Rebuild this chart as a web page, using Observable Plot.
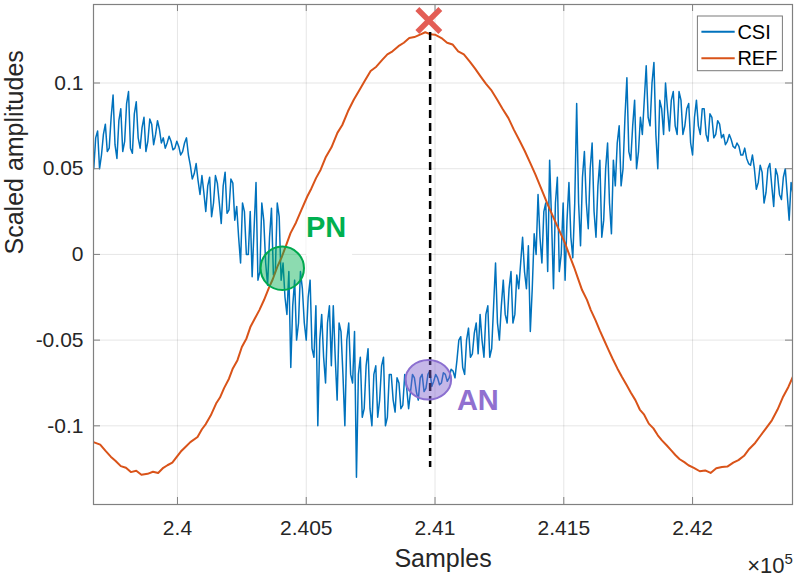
<!DOCTYPE html>
<html><head><meta charset="utf-8">
<script src="https://cdn.jsdelivr.net/npm/d3@7"></script>
<script src="https://cdn.jsdelivr.net/npm/@observablehq/plot@0.6"></script>
<style>body{margin:0;background:#fff}svg{display:block}</style>
</head><body><div id="chart"></div>
<script>
// CSI: equally spaced samples (main samples every 15, mid samples offset by 7.5)
const csiStart = 239675, csiStep = 15;
const csiValues = [
 0.05, 0.072, 0.058, 0.076, 0.062,
 0.093, 0.056, 0.085, 0.066, 0.095, 0.059, 0.089,
 0.062, 0.08, 0.066, 0.076, 0.07, 0.073,
 0.068, 0.065, 0.066, 0.062, 0.063, 0.06, 0.068,
 0.052, 0.047, 0.043,
 0.046, 0.025, 0.045, 0.03, 0.0415, 0.018, 0.048, 0.026, 0.0416,
 0.028, -0.005, 0.025,
 0.0, -0.013, 0.042, -0.01,
 0.02, -0.018, 0.027, -0.01, 0.022,
 -0.005, -0.035, -0.066, -0.015, -0.04,
 -0.02, -0.05, -0.015, -0.06, -0.1, -0.035, -0.075, -0.03,
 -0.03, -0.085, -0.045, -0.1, -0.04, -0.075,
 -0.13, -0.06, -0.09, -0.055, -0.1, -0.065, -0.085, -0.06, -0.095,
 -0.07, -0.092, -0.075, -0.088, -0.078,
 -0.08, -0.072, -0.085, -0.07, -0.078, -0.068, -0.074, -0.072, -0.075, -0.07, -0.072, -0.068,
 -0.062, -0.048, -0.07, -0.043, -0.058, -0.04,
 -0.035, -0.06, -0.03, -0.055, -0.005, -0.05,
 -0.015, -0.04, -0.01, -0.035, -0.02,
 0.01, -0.02, -0.045, 0.012,
 0.035, -0.005, 0.03, 0.055, -0.02, 0.045, 0.0,
 -0.015, 0.042, -0.002,
 0.088, 0.005, 0.06, 0.015, 0.065, 0.01, 0.055, 0.02, 0.065, 0.012,
 0.04, 0.075, 0.05, 0.103, 0.055, 0.09, 0.06,
 0.07, 0.11, 0.075, 0.112, 0.05,
 0.085, 0.1, 0.072, 0.095, 0.07, 0.09, 0.075, 0.088, 0.058,
 0.09, 0.07, 0.085, 0.066, 0.08, 0.07, 0.076,
 0.07, 0.066, 0.067, 0.062, 0.063, 0.058, 0.056, 0.052,
 0.05, 0.042, 0.048, 0.036, 0.053, 0.028, 0.046, 0.032, 0.05, 0.02, 0.035
];
const csiMidValues = [
 0.068, 0.05, 0.07, 0.06, 0.08,
 0.064, 0.078, 0.06, 0.088, 0.062, 0.082, 0.068,
 0.074, 0.06, 0.079, 0.064, 0.078, 0.065,
 0.062, 0.069, 0.061, 0.066, 0.058, 0.065, 0.058,
 0.044, 0.053, 0.035,
 0.036, 0.04, 0.022, 0.046, 0.03, 0.04, 0.024, 0.044, 0.02,
 0.01, 0.03, 0.0,
 0.025, 0.015, -0.015, 0.03,
 -0.005, 0.01, -0.012, 0.03, -0.015,
 -0.025, -0.01, -0.03, -0.05, -0.01,
 -0.04, -0.025, -0.055, -0.03, -0.05, -0.06, -0.04, -0.065,
 -0.06, -0.04, -0.07, -0.05, -0.07, -0.045,
 -0.07, -0.095, -0.065, -0.09, -0.07, -0.095, -0.065, -0.1, -0.07,
 -0.085, -0.072, -0.09, -0.07, -0.09,
 -0.07, -0.08, -0.072, -0.08, -0.07, -0.077, -0.07, -0.076, -0.069, -0.074, -0.067, -0.072,
 -0.05, -0.066, -0.05, -0.06, -0.046, -0.058,
 -0.05, -0.035, -0.06, -0.03, -0.04, -0.03,
 -0.035, -0.02, -0.04, -0.012, -0.005,
 -0.01, 0.005, -0.02, 0.0,
 0.01, 0.025, -0.01, 0.02, 0.03, -0.01, 0.03,
 0.02, 0.01, 0.03,
 0.03, 0.045, 0.03, 0.05, 0.025, 0.04, 0.01, 0.05, 0.03, 0.055,
 0.065, 0.04, 0.08, 0.06, 0.075, 0.05, 0.08,
 0.09, 0.08, 0.1, 0.07, 0.09,
 0.07, 0.085, 0.09, 0.075, 0.095, 0.07, 0.085, 0.065, 0.08,
 0.075, 0.085, 0.07, 0.082, 0.068, 0.078, 0.068,
 0.064, 0.07, 0.063, 0.065, 0.058, 0.062, 0.053, 0.058,
 0.038, 0.052, 0.03, 0.05, 0.04, 0.05, 0.035, 0.045, 0.035, 0.042
];
const refSamples = [
 239674,239700,239720,239741,239760,239780,239800,239819,239840,239860,239884,239905,239925,239945,239961,239980,239995,
 240013,240030,240050,240078,240095,240110,240129,240150,240165,240181,240200,240215,240233,240250,240268,240284,240300,
 240318,240336,240355,240370,240388,240405,240420,240439,240460,240480,240504,240520,240538,240556,240575,240598,240621,
 240640,240662,240685,240705,240728,240750,240772,240795,240815,240835,240858,240879,240900,240920,240944,240962,240983,
 241000,241025,241047,241068,241090,241112,241135,241155,241176,241198,241220,241241,241262,241285,241306,241328,241348,
 241370,241390,241412,241435,241460,241487,241505,241519,241540,241555,241571,241590,241605,241623,241640,241655,241674,
 241690,241708,241726,241745,241760,241778,241795,241812,241830,241848,241865,241881,241900,241918,241933,241950,241968,
 241984,242005,242028,242049,242070,242092,242114,242135,242158,242178,242200,242220,242243,242265,242285,242308,242330,
 242350,242372,242392
];
const refValues = [
 -0.1095,-0.111,-0.1145,-0.118,-0.1205,-0.1235,-0.1245,-0.127,-0.1262,-0.1285,-0.128,-0.1268,-0.1275,-0.1245,-0.123,-0.1215,-0.1185,
 -0.115,-0.1125,-0.1095,-0.1065,-0.102,-0.099,-0.094,-0.087,-0.0835,-0.078,-0.0725,-0.0665,-0.0617,-0.054,-0.049,-0.042,-0.0375,
 -0.0325,-0.0266,-0.0195,-0.0145,-0.0071,-0.0015,0.0045,0.0124,0.0185,0.0255,0.0338,0.0385,0.0445,0.0494,0.0565,0.0625,0.0709,
 0.0755,0.0835,0.0904,0.0955,0.1015,0.107,0.1095,0.1135,0.1167,0.1185,0.1215,0.1235,0.1262,0.1268,0.1284,0.1296,0.1284,
 0.1282,0.1262,0.1235,0.1225,0.1185,0.1167,0.1125,0.1085,0.104,0.0995,0.0955,0.0904,0.085,0.0795,0.0728,0.0665,0.0605,
 0.0533,0.0465,0.0385,0.030,0.0215,0.0124,0.0065,0.0007,-0.0075,-0.014,-0.0208,-0.0265,-0.0325,-0.0383,-0.0445,-0.0495,-0.0558,
 -0.061,-0.0665,-0.0715,-0.0765,-0.0805,-0.085,-0.0905,-0.0935,-0.0987,-0.1015,-0.1055,-0.1085,-0.1115,-0.1145,-0.117,-0.1195,-0.1212,
 -0.123,-0.1245,-0.1265,-0.126,-0.1275,-0.1248,-0.124,-0.1238,-0.1215,-0.120,-0.1175,-0.1135,-0.110,-0.1055,-0.1015,-0.0968,-0.0905,
 -0.0835,-0.0773,-0.0705
];
const seriesNames = ["CSI", "REF"];
const seriesColors = ["#0072BD", "#D95319"];
const xTicks = [240000, 240500, 241000, 241500, 242000];
const xTickLabels = ["2.4", "2.405", "2.41", "2.415", "2.42"];
const yTicks = [-0.1, -0.05, 0, 0.05, 0.1];
const yTickLabels = ["-0.1", "-0.05", "0", "0.05", "0.1"];
const xDomain = [239674, 242388];
const yDomain = [-0.1459, 0.1458];
// annotations
const peakMarker = [{x: 240976, y: 0.1365}];
const peakLine = [{x: 240981, y1: 0.1295, y2: -0.1243}];
const pnCircle = [{x: 240407, y: -0.0081}];
const pnLabel = [{x: 240499, y: 0.0100, text: "PN"}];
const pnBackground = [{x1: 240502, x2: 240680, y1: -0.0012, y2: 0.026}];
const anEllipse = {x: 240976, y: -0.0734};
const anLabel = [{x: 241085, y: -0.0909, text: "AN"}];

const csi = [];
csiValues.forEach((v, i) => {
  csi.push({x: csiStart + i * csiStep, y: v});
  if (i < csiMidValues.length) csi.push({x: csiStart + i * csiStep + csiStep / 2, y: csiMidValues[i]});
});
const ref = refSamples.map((s, i) => ({x: s, y: refValues[i]}));

const W = 795, H = 576, mL = 93, mR = 3, mT = 4, mB = 72;
const pw = W - mL - mR, ph = H - mT - mB;
const font = "'Liberation Sans', Arial, Helvetica, sans-serif";
const axisGrey = "#808080";

function ellipseMark(index, scales) {
  return d3.create("svg:ellipse")
    .attr("cx", scales.x(anEllipse.x)).attr("cy", scales.y(anEllipse.y))
    .attr("rx", 22.8).attr("ry", 19.7)
    .attr("fill", "#7f5fcc").attr("fill-opacity", 0.45)
    .attr("stroke", "#8b6fd0").attr("stroke-width", 2).node();
}
function legendMark(index, scales, values, dims) {
  const g = d3.create("svg:g").attr("font-family", font).attr("text-anchor", "start");
  const x0 = dims.width - dims.marginRight - 94.6, y0 = 16;
  g.append("rect").attr("x", x0).attr("y", y0).attr("width", 85).attr("height", 54.7)
    .attr("fill", "#fff").attr("stroke", "#7a7a7a").attr("stroke-width", 1);
  seriesNames.forEach((name, i) => {
    const yy = y0 + 15.7 + i * 26.6;
    g.append("line").attr("x1", x0 + 4).attr("x2", x0 + 37.3).attr("y1", yy).attr("y2", yy)
      .attr("stroke", seriesColors[i]).attr("stroke-width", 2);
    g.append("text").attr("x", x0 + 40).attr("y", yy).attr("dy", "0.35em")
      .attr("text-anchor", "start").attr("font-size", 20).attr("fill", "#000").text(name);
  });
  return g.node();
}

const chart = Plot.plot({
  width: W, height: H,
  marginLeft: mL, marginRight: mR, marginTop: mT, marginBottom: mB,
  style: {fontFamily: font, background: "#fff", color: "#262626"},
  x: {domain: xDomain},
  y: {domain: yDomain},
  marks: [
    Plot.gridX(xTicks, {stroke: "#000", strokeOpacity: 0.1}),
    Plot.gridY(yTicks, {stroke: "#000", strokeOpacity: 0.1}),
    Plot.rect(pnBackground, {x1: "x1", x2: "x2", y1: "y1", y2: "y2", fill: "#fff"}),
    Plot.line(csi, {x: "x", y: "y", stroke: seriesColors[0], strokeWidth: 1.5, clip: true}),
    Plot.line(ref, {x: "x", y: "y", stroke: seriesColors[1], strokeWidth: 2, clip: true}),
    Plot.ruleX(peakLine, {x: "x", y1: "y1", y2: "y2", stroke: "#000", strokeWidth: 2.5, strokeDasharray: "8,5"}),
    Plot.dot(pnCircle, {x: "x", y: "y", r: 21.7, fill: "#00b050", fillOpacity: 0.45, stroke: "#00a94f", strokeWidth: 2}),
    ellipseMark,
    Plot.dot(peakMarker, {x: "x", y: "y", symbol: "times", r: 10.5, stroke: "#e35d55", strokeWidth: 5.5}),
    Plot.text(pnLabel, {x: "x", y: "y", text: "text", textAnchor: "start", lineAnchor: "bottom", fontSize: 29, fontWeight: "bold", fill: "#00b050"}),
    Plot.text(anLabel, {x: "x", y: "y", text: "text", textAnchor: "start", lineAnchor: "bottom", fontSize: 29, fontWeight: "bold", fill: "#9070d0"}),
    Plot.frame({stroke: axisGrey, strokeWidth: 1.2}),
    Plot.tickX(xTicks, {x: d => d, stroke: axisGrey, insetTop: ph - 7}),
    Plot.tickX(xTicks, {x: d => d, stroke: axisGrey, insetBottom: ph - 7}),
    Plot.tickY(yTicks, {y: d => d, stroke: axisGrey, insetRight: pw - 7}),
    Plot.tickY(yTicks, {y: d => d, stroke: axisGrey, insetLeft: pw - 7}),
    Plot.axisX(xTicks, {tickSize: 0, tickPadding: 16, fontSize: 21, fill: "#262626", label: null,
      tickFormat: d => xTickLabels[xTicks.indexOf(d)]}),
    Plot.axisY(yTicks, {tickSize: 0, tickPadding: 10, fontSize: 21, fill: "#262626", label: null,
      tickFormat: d => yTickLabels[yTicks.indexOf(d)]}),
    Plot.text(["Samples"], {frameAnchor: "bottom", dy: 62, lineAnchor: "bottom", fontSize: 25, fill: "#262626"}),
    Plot.text(["Scaled amplitudes"], {frameAnchor: "left", dx: -71, rotate: -90, lineAnchor: "bottom", fontSize: 25, fill: "#262626"}),
    Plot.text(["×10"], {frameAnchor: "bottom-right", dx: -8, dy: 68, textAnchor: "end", lineAnchor: "bottom", fontSize: 22, fill: "#262626"}),
    Plot.text(["5"], {frameAnchor: "bottom-right", dx: -8, dy: 59, textAnchor: "start", lineAnchor: "bottom", fontSize: 15, fill: "#262626"}),
    legendMark
  ]
});
document.getElementById("chart").appendChild(chart);
</script></body></html>
